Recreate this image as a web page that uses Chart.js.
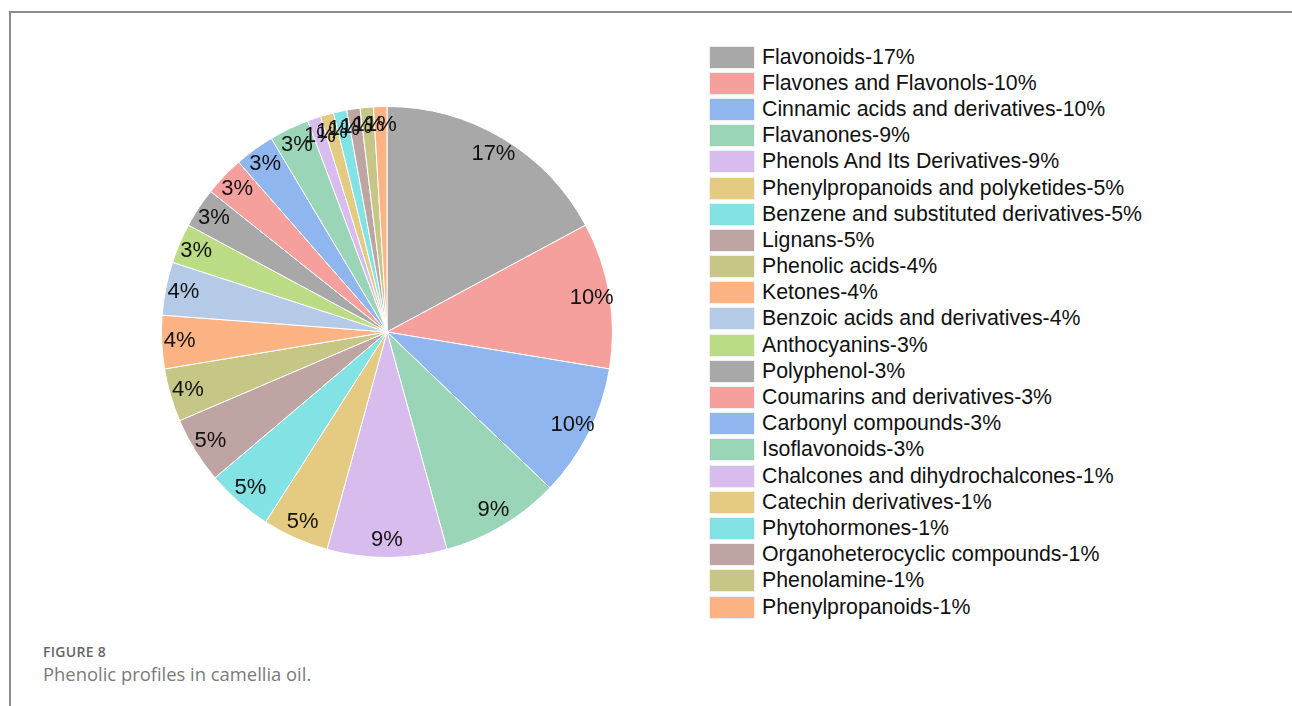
<!DOCTYPE html>
<html lang="en">
<head>
    <meta charset="UTF-8">
    <title>Phenolic profiles in camellia oil</title>
    <style>
        body {
            margin: 0;
            background: #fff;
            font-family: "Liberation Sans", Arial, sans-serif;
            width: 1292px;
            height: 706px;
            overflow: hidden;
            position: relative;
        }

        .frame {
            position: absolute;
            left: 9px;
            top: 11px;
            right: -5px;
            bottom: -5px;
            border-top: 2px solid #8c8c8c;
            border-left: 2px solid #8c8c8c;
        }

        .pie-box {
            position: absolute;
            left: 131px;
            top: 76px;
            width: 512px;
            height: 512px;
        }

        .legend {
            position: absolute;
            left: 709px;
            top: 44px;
            margin: 0;
            padding: 0;
            list-style: none;
        }

        .legend li {
            height: 26.2px;
            display: flex;
            align-items: center;
            font-size: 21.3px;
            color: #111;
            white-space: nowrap;
        }

        .legend .swatch {
            width: 44px;
            height: 21px;
            border: 1px solid #eef0f4;
            margin-right: 7px;
            flex: none;
        }

        .caption {
            position: absolute;
            left: 43px;
            top: 642px;
            font-family: "Open Sans", sans-serif;
        }

        .caption .fig {
            font-size: 14px;
            font-weight: 600;
            color: #666;
            letter-spacing: 0.3px;
        }

        .caption .text {
            font-size: 18.4px;
            color: #7a7a7a;
            margin-top: 0px;
        }
    </style>
</head>
<body>
    <div class="frame"></div>

    <div class="pie-box">
        <canvas id="pieChart"></canvas>
    </div>

    <ul class="legend" id="legend"></ul>

    <div class="caption">
        <div class="fig">FIGURE 8</div>
        <div class="text">Phenolic profiles in camellia oil.</div>
    </div>

    <script src="https://cdn.jsdelivr.net/npm/chart.js"></script>
    <script>
        const categories = [
            'Flavonoids', 'Flavones and Flavonols', 'Cinnamic acids and derivatives', 'Flavanones',
            'Phenols And Its Derivatives', 'Phenylpropanoids and polyketides', 'Benzene and substituted derivatives',
            'Lignans', 'Phenolic acids', 'Ketones', 'Benzoic acids and derivatives', 'Anthocyanins',
            'Polyphenol', 'Coumarins and derivatives', 'Carbonyl compounds', 'Isoflavonoids',
            'Chalcones and dihydrochalcones', 'Catechin derivatives', 'Phytohormones',
            'Organoheterocyclic compounds', 'Phenolamine', 'Phenylpropanoids'
        ];

        // number of compounds per class
        const counts = [18, 11, 10, 9, 9, 5, 5, 5, 4, 4, 4, 3, 3, 3, 3, 3, 1, 1, 1, 1, 1, 1];

        const palette = [
            '#a8a8a8', '#f6a09e', '#8fb6ee', '#9bd5b7', '#d7bced', '#e5cb82',
            '#83e3e4', '#bea4a3', '#c6c686', '#fdb383', '#b5cae6', '#bbdc85'
        ];

        const total = counts.reduce((a, b) => a + b, 0);
        const pctLabels = counts.map(v => Math.round(v / total * 100) + '%');
        const colors = counts.map((v, i) => palette[i % palette.length]);

        // legend
        const legend = document.getElementById('legend');
        categories.forEach((name, i) => {
            const li = document.createElement('li');
            li.innerHTML = `<span class="swatch" style="background:${colors[i]}"></span>${name}-${pctLabels[i]}`;
            legend.appendChild(li);
        });

        // percent labels inside the slices
        const sliceLabels = {
            id: 'sliceLabels',
            afterDatasetsDraw(chart) {
                const ctx = chart.ctx;
                const meta = chart.getDatasetMeta(0);
                ctx.save();
                ctx.font = '22px "Liberation Sans", Arial, sans-serif';
                ctx.fillStyle = '#111';
                ctx.textAlign = 'center';
                ctx.textBaseline = 'middle';
                meta.data.forEach((arc, i) => {
                    const p = arc.getProps(['x', 'y', 'startAngle', 'endAngle', 'outerRadius'], true);
                    const mid = (p.startAngle + p.endAngle) / 2;
                    const r = p.outerRadius * 0.92;
                    ctx.fillText(pctLabels[i], p.x + Math.cos(mid) * r, p.y + Math.sin(mid) * r);
                });
                ctx.restore();
            }
        };

        new Chart(document.getElementById('pieChart'), {
            type: 'pie',
            data: {
                labels: categories,
                datasets: [{
                    data: counts,
                    backgroundColor: colors,
                    borderColor: '#ffffff',
                    borderWidth: 1
                }]
            },
            options: {
                responsive: true,
                maintainAspectRatio: false,
                animation: false,
                layout: { padding: 30 },
                plugins: {
                    legend: { display: false },
                    tooltip: { enabled: false }
                }
            },
            plugins: [sliceLabels]
        });
    </script>
</body>
</html>
